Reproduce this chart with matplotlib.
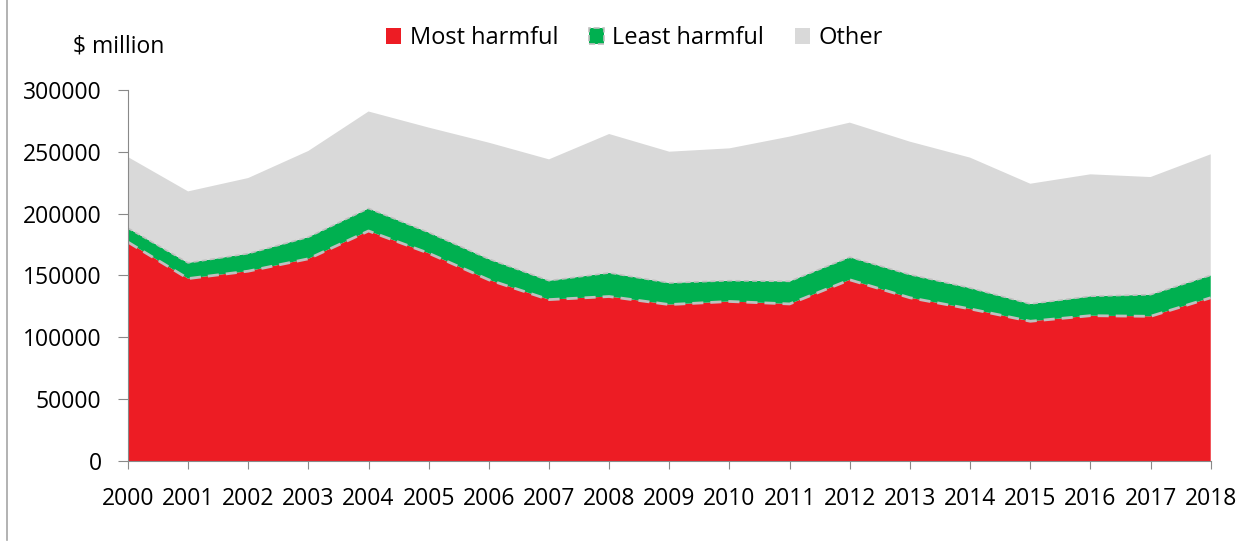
import matplotlib
matplotlib.use("Agg")
import matplotlib.pyplot as plt
from matplotlib.patches import Patch
from matplotlib.lines import Line2D

plt.rcParams['font.family'] = ['Open Sans', 'DejaVu Sans']

years = list(range(2000, 2019))
most_harmful = [177000, 147500, 153500, 163500, 186000, 168000, 146500, 130500, 133000, 126500,
                129000, 127000, 146500, 132000, 123000, 113000, 117500, 117000, 132000]
least_harmful = [11300, 12700, 14200, 17500, 18200, 16800, 16800, 15300, 19100, 17500,
                 16800, 18300, 18300, 18700, 16900, 14000, 15700, 17500, 18100]
other = [57500, 57800, 61100, 69700, 78400, 84800, 94100, 98100, 112300, 106100,
         107000, 117000, 108800, 107500, 105400, 97200, 98600, 95100, 97900]
labels = ['Most harmful', 'Least harmful', 'Other']
colors = ['#ED1C24', '#00B050', '#D9D9D9']

fig = plt.figure(figsize=(12.54, 5.5), dpi=100)
ax = fig.add_axes([0.102, 0.1618, 0.8635, 0.6746])

ax.stackplot(years, most_harmful, least_harmful, other, colors=colors, linewidth=0)

green_top = [a + b for a, b in zip(most_harmful, least_harmful)]
ax.plot(years, green_top, color='#BFBFBF', lw=1.2, ls=(0, (3, 2)))
ax.plot(years, most_harmful, color='#BFBFBF', lw=2, ls=(0, (4, 2.5)))

ax.set_xlim(2000, 2018)
ax.set_ylim(0, 300000)
ax.set_xticks(years)
ax.set_yticks(range(0, 300001, 50000))
for s in ['top', 'right']:
    ax.spines[s].set_visible(False)
for s in ['left', 'bottom']:
    ax.spines[s].set_color('#898989')
    ax.spines[s].set_zorder(5)
ax.tick_params(axis='y', length=7, color='#898989', labelsize=16.5, pad=12)
ax.tick_params(axis='x', length=6, color='#898989', labelsize=16.5, pad=13)

handles = [Patch(facecolor=colors[0], edgecolor='none'),
           Patch(facecolor=colors[1], edgecolor='#BFBFBF', linestyle='--', linewidth=1.2),
           Patch(facecolor=colors[2], edgecolor='none')]
fig.legend(handles, labels, loc='center', bbox_to_anchor=(0.506, 0.93), ncol=3, frameon=False,
           fontsize=17, handlelength=0.65, handleheight=0.65, handletextpad=0.35, columnspacing=1.3)

fig.text(0.058, 0.916, '$ million', fontsize=16.5, va='center', ha='left')
fig.add_artist(Line2D([0.0055, 0.0055], [0.018, 1.0], color='#A6A6A6', lw=1.2))

fig.savefig('out.png', dpi=100)
